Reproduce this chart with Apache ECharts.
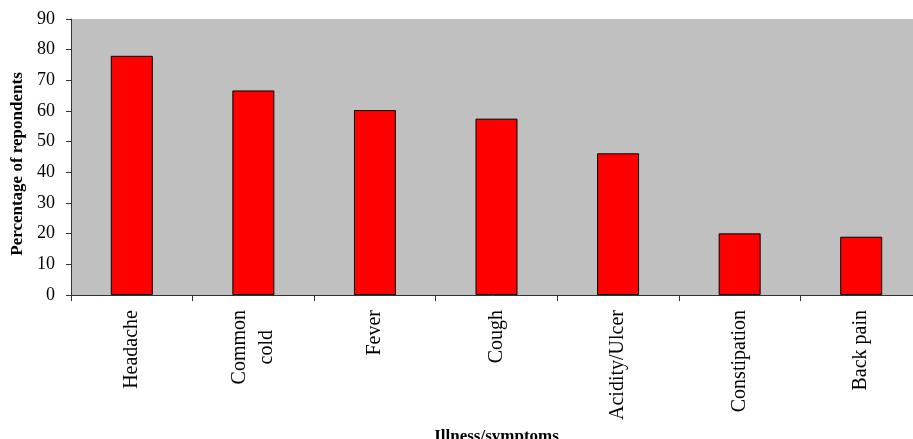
<!DOCTYPE html>
<html>
<head>
<meta charset="utf-8">
<script src="https://cdn.jsdelivr.net/npm/echarts@6/dist/echarts.min.js"></script>
<style>
  html, body { margin: 0; padding: 0; background: #fff; }
  #classChart { width: 913px; height: 439px; }
</style>
</head>
<body>
<div id="classChart"></div>
<script>
// 数据
var categoryList = ['Headache', 'Common\ncold', 'Fever', 'Cough', 'Acidity/Ulcer', 'Constipation', 'Back pain']
var percentList = [78, 66.7, 60.3, 57.5, 46.2, 20.1, 19.0]
var yTickMin = 0
var yTickMax = 90
var yTickStep = 10

var serif = 'Liberation Serif'
var chart = echarts.init(document.getElementById('classChart'))
var option = {
  animation: false,
  textStyle: { fontFamily: serif },
  grid: {
    show: true,
    left: 71,
    top: 19,
    right: -9,
    bottom: 144,
    outerBoundsMode: 'none',
    containLabel: false,
    backgroundColor: '#C0C0C0',
    borderWidth: 0
  },
  xAxis: {
    type: 'category',
    data: categoryList,
    name: 'Illness/symptoms',
    nameLocation: 'middle',
    nameGap: 131,
    nameTextStyle: { fontSize: 17, fontWeight: 'bold', color: '#000', fontFamily: serif },
    axisLine: { lineStyle: { color: '#333', width: 1 } },
    axisTick: { show: true, alignWithLabel: false, length: 6, lineStyle: { color: '#333' } },
    axisLabel: {
      rotate: 90,
      interval: 0,
      margin: 15,
      color: '#000',
      // 多行标签居中对齐
      formatter: function (val) {
        return val.split('\n').map(function (s) { return '{c|' + s + '}' }).join('\n')
      },
      rich: {
        c: { align: 'center', fontSize: 20, lineHeight: 27, color: '#000', fontFamily: serif }
      }
    },
    splitLine: { show: false }
  },
  yAxis: {
    type: 'value',
    min: yTickMin,
    max: yTickMax,
    interval: yTickStep,
    name: 'Percentage of repondents',
    nameLocation: 'middle',
    nameGap: 45,
    nameTextStyle: { fontSize: 17, fontWeight: 'bold', color: '#000', fontFamily: serif, padding: [0, 14, 0, 0] },
    axisLine: { show: true, lineStyle: { color: '#333', width: 1 } },
    axisTick: { show: true, length: 5, lineStyle: { color: '#333' } },
    axisLabel: { fontSize: 18, color: '#000', margin: 16, fontFamily: serif },
    splitLine: { show: false }
  },
  series: [{
    type: 'bar',
    name: 'Percentage',
    barWidth: 42,
    data: percentList,
    itemStyle: { color: '#FF0000', borderColor: '#000', borderWidth: 1 }
  }]
}
chart.setOption(option)
</script>
</body>
</html>
